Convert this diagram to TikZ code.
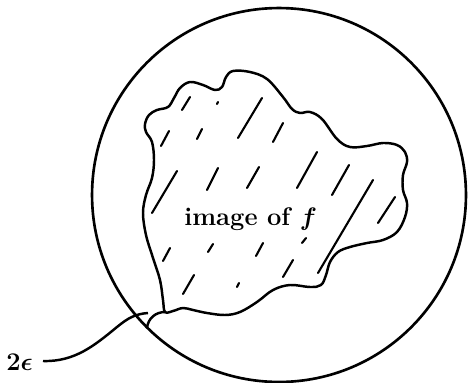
\documentclass[tikz,border=0pt]{standalone}
\usepackage{amsmath,amssymb,bm}
\usetikzlibrary{positioning}

\begin{document}
\begin{tikzpicture}[x=0.02cm, y=-0.02cm,
    every node/.style={font=\fontsize{14.5}{17}\selectfont\bfseries},
    rim/.style={line width=1.5pt},
    outline/.style={line width=1.4pt, line join=round},
    hatch/.style={line width=1.2pt, line cap=round}]
  \useasboundingbox (0,0) rectangle (469,382);
  % outer circle
  \draw[rim] (279,195) circle (3.74cm);
  % image of f
  \draw[outline] plot[smooth cycle, tension=0.6] coordinates {
    (165,312) (163,300) (160,280) (153,258) (146,235) (143,213) (146,195)
    (152,178) (154,160) (152,142) (146,132) (145,124) (149,115) (157,110)
    (168,107) (174,98) (180,88) (190,82) (203,85) (215,90) (222,87)
    (226,77) (233,71) (250,72) (267,79) (283,97) (292,109) (300,113)
    (310,112) (322,119) (337,139) (350,147) (367,146) (383,143) (397,145)
    (405,152) (407,162) (403,175) (403,190) (407,203) (405,217) (397,232)
    (383,240) (367,243) (350,247) (338,252) (330,262) (326,275) (321,285)
    (310,287) (290,285) (273,290) (257,302) (240,312) (225,315) (207,313)
    (193,310) (183,308) (173,311)};
  \coordinate (corner) at (165,312);
  \coordinate (foot) at (147,328);
  \draw[outline] (corner) .. controls (156,312) and (148,318) .. (foot);
  % hatching
  \foreach \xa/\ya/\xb/\yb in {190/97/182/110, 218/102/217/104, 262/98/238/138,
      283/123/273/142, 169/131/161/146, 202/129/197/139, 177/171/152/213,
      218/168/207/190, 259/167/247/188, 317/152/297/188, 349/165/332/195,
      373/180/318/273, 395/197/378/223, 170/248/163/261, 213/244/208/252,
      263/243/256/256, 293/260/283/277, 306/238/302/243, 194/275/183/294,
      239/283/237/287}
    \draw[hatch] (\xa,\ya) -- (\xb,\yb);
  \node[anchor=base west, inner sep=0pt] (img) at (184,225) {image of $\bm{f}$};
  % width label
  \node[anchor=base west, inner sep=0pt] (eps) at (6,370) {2$\bm{\epsilon}$};
  \coordinate (tip) at (148,313);
  \draw[outline] (43,361) .. controls (75,362) and (95,345) .. (117,327)
    .. controls (128,318) and (135,314) .. (tip);
\end{tikzpicture}
\end{document}
